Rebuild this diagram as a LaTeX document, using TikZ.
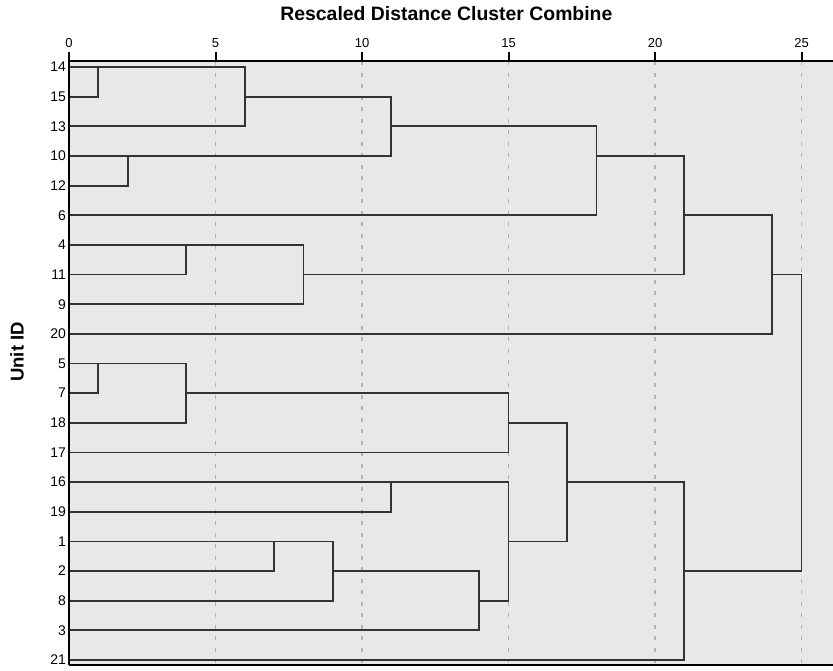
\documentclass[tikz,border=0pt]{standalone}
\usepackage{fontspec}
\setmainfont{Liberation Sans}
\usepackage{xcolor}
\usepackage{tikz}
\definecolor{plotbg}{HTML}{E8E8E8}
\definecolor{gridgray}{HTML}{B2B2B2}
\definecolor{linkgray}{HTML}{333333}

\begin{document}
\begin{tikzpicture}[x=29.3pt,y=-29.65pt,link/.style={linkgray,line width=1.8pt,line cap=rect},axisline/.style={black,line width=2pt},gridline/.style={gridgray,line width=1.3pt,dash pattern=on 4pt off 7.5pt},unitlbl/.style={anchor=east,inner sep=0pt,font=\fontsize{14}{15}\selectfont},ticklbl/.style={anchor=south,inner sep=0pt,font=\fontsize{13}{14}\selectfont}]
\useasboundingbox (-2.355,-1.26) rectangle (26.075,21.34);
\fill[plotbg] (0,0.8) rectangle (26.075,21.17);
\foreach \x in {5,10,...,25} {
   \draw[gridline] (\x,0.8) -- (\x,21.17);
}
\foreach \row/\unit/\len in %
{1/14/6,2/15/1,3/13/6,4/10/11,5/12/2,6/6/18,7/4/8,8/11/4,9/9/8,10/20/24,11/5/4,12/7/1,13/18/4,14/17/15,15/16/15,16/19/11,17/1/9,18/2/7,19/8/9,20/3/14,21/21/21} {
   \node[unitlbl] (id\unit) at (-0.1,\row) {\unit};
   \draw[link] (0,\row) -- (\len,\row);
}
\foreach \row/\from/\to in %
{2/6/11,3/11/18,4/18/21,6/21/24,8/8/21,8/24/25,12/4/15,13/15/17,15/17/21,17/15/17,18/9/14,18/21/25,19/14/15} {
   \draw[link] (\from,\row) -- (\to,\row);
}
\foreach \x/\top/\bot in %
{1/1/2,6/1/3,2/4/5,11/2/4,18/3/6,4/7/8,8/7/9,21/4/8,24/6/10,25/8/18,1/11/12,4/11/13,15/12/14,17/13/17,11/15/16,7/17/18,9/17/19,14/18/20,15/15/19,21/15/21} {
   \draw[link] (\x,\top) -- (\x,\bot);
}
\draw[axisline] (0,21.17) -- (0,0.8) -- (26.075,0.8);
\draw[axisline] (0,21.17) -- (26.075,21.17);
\foreach \x in {0,5,...,25} {
   \draw[axisline] (\x,0.8) -- (\x,0.5);
   \node[ticklbl] (tick\x) at (\x,0.35) {\x};
}
\node[anchor=base,font=\bfseries\fontsize{19.4}{20}\selectfont] (title) at (12.88,-0.57) {Rescaled Distance Cluster Combine};
\node[rotate=90,inner sep=0pt,font=\bfseries\fontsize{18.5}{20}\selectfont] (axisname) at (-1.775,10.61) {Unit ID};
\end{tikzpicture}
\end{document}
